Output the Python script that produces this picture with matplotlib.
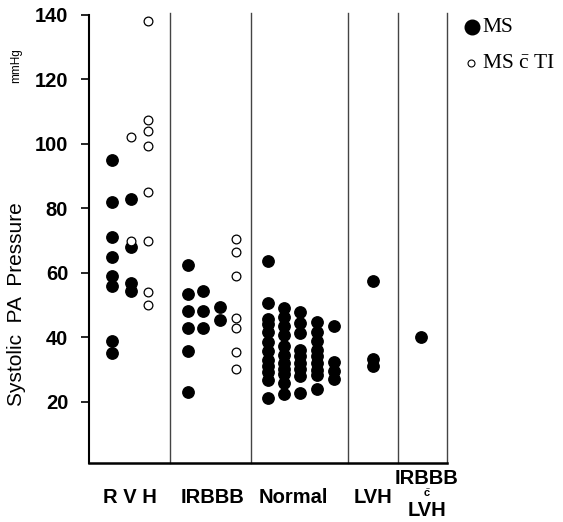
import matplotlib.pyplot as plt
from matplotlib.transforms import blended_transform_factory

plt.rcParams['mathtext.fontset'] = 'custom'
plt.rcParams['mathtext.rm'] = 'Liberation Serif'
plt.rcParams['mathtext.sf'] = 'Liberation Sans:bold'

# systolic PA pressure (mmHg), one list per column of dots
rvh_ms = [[95, 82, 71, 65, 59, 56, 39, 35], [83, 68, 57, 54.5]]
rvh_ti = [[102, 70], [138, 107.5, 104, 99.5, 85, 70, 54, 50]]
irbbb_ms = [[62.5, 53.5, 48.3, 42.8, 35.6, 22.9], [54.4, 48.3, 42.8], [49.4, 45.4]]
irbbb_ti = [[70.4, 66.4, 58.9, 46, 42.8, 35.4, 30.1]]
normal_ms = [
    [63.8, 50.6, 45.6, 44.1, 41.5, 38.5, 35.8, 33, 31, 29.1, 26.6, 21.1],
    [49.2, 46.2, 43.6, 40.6, 37.4, 34.5, 32, 30.3, 28.6, 25.8, 22.4],
    [48, 44.4, 41.3, 36.1, 34.1, 32, 30.2, 28.1, 22.7],
    [44.9, 41.8, 38.7, 36.1, 34.1, 32, 29.9, 28.4, 24],
    [43.5, 32.2, 29.6, 27.2],
]
lvh_ms = [[57.4, 33.3, 31]]
irbbb_lvh_ms = [[40]]

groups = ['R V H', 'IRBBB', 'Normal', 'LVH']
yticks = [20, 40, 60, 80, 100, 120, 140]

# horizontal layout (axis units = pixels from the left axis)
bounds = [81, 162, 259, 309, 358]
label_x = [41, 123, 204, 284]
ms_cols = [(rvh_ms, [23, 42]), (irbbb_ms, [99, 114, 131]),
           (normal_ms, [179, 195, 211, 228, 245]), (lvh_ms, [284]),
           (irbbb_lvh_ms, [332])]
ti_cols = [(rvh_ti, [42, 59]), (irbbb_ti, [147])]

W, H = 563, 522
fig = plt.figure(figsize=(W / 100, H / 100), dpi=100)
ax = fig.add_axes([89 / W, (H - 463) / H, (447 - 89) / W, (463 - 15) / H])

for cols, xs in ms_cols:
    for vals, x in zip(cols, xs):
        ax.plot([x] * len(vals), vals, 'o', ms=8.2, color='black', mec='black')
for cols, xs in ti_cols:
    for vals, x in zip(cols, xs):
        ax.plot([x] * len(vals), vals, 'o', ms=6.3, mfc='white', mec='black', mew=0.9)

for b in bounds:
    ax.plot([b, b], [1, 140.6], color='#444444', lw=1.0, clip_on=False)

ax.set_xlim(0, 358)
ax.set_ylim(1, 140)
ax.spines['top'].set_visible(False)
ax.spines['right'].set_visible(False)
ax.spines['left'].set_linewidth(1.5)
ax.spines['bottom'].set_linewidth(1.8)
ax.set_xticks([])
ax.set_yticks(yticks)
ax.tick_params(axis='y', length=6, width=1.2, pad=9)
for lab in ax.get_yticklabels():
    lab.set_fontfamily('Liberation Sans')
    lab.set_fontweight('bold')
    lab.set_fontsize(14.5)

trans = blended_transform_factory(ax.transData, ax.transAxes)
for name, x in zip(groups, label_x):
    ax.text(x, -0.078, name, transform=trans, ha='center', va='center',
            fontsize=14.5, fontweight='bold', family='Liberation Sans')
ax.text(338, -0.035, 'IRBBB', transform=trans, ha='center', va='center',
        fontsize=14.5, fontweight='bold', family='Liberation Sans')
ax.text(338, -0.068, r'$\bar{\mathsf{c}}$', transform=trans, ha='center', va='center',
        fontsize=8)
ax.text(338, -0.105, 'LVH', transform=trans, ha='center', va='center',
        fontsize=14.5, fontweight='bold', family='Liberation Sans')

fig.text(17 / W, 1 - 304 / H, 'Systolic  PA  Pressure', rotation=90, ha='center',
         va='center', fontsize=15, family='Liberation Sans')
fig.text(16 / W, 1 - 66 / H, 'mmHg', rotation=90, ha='center', va='center',
         fontsize=8.5, family='Liberation Sans')

# legend
ax.plot([472 / W], [1 - 27 / H], 'o', ms=10.5, color='black',
        transform=fig.transFigure, clip_on=False)
ax.plot([471 / W], [1 - 63 / H], 'o', ms=5, mfc='white', mec='black', mew=0.8,
        transform=fig.transFigure, clip_on=False)
fig.text(482 / W, 1 - 27 / H, 'MS', ha='left', va='center', fontsize=15.5,
         family='Liberation Serif')
fig.text(482 / W, 1 - 63 / H, r'MS $\bar{\mathrm{c}}$ TI', ha='left', va='center',
         fontsize=15.5, family='Liberation Serif')

fig.savefig('out.png', dpi=100)
